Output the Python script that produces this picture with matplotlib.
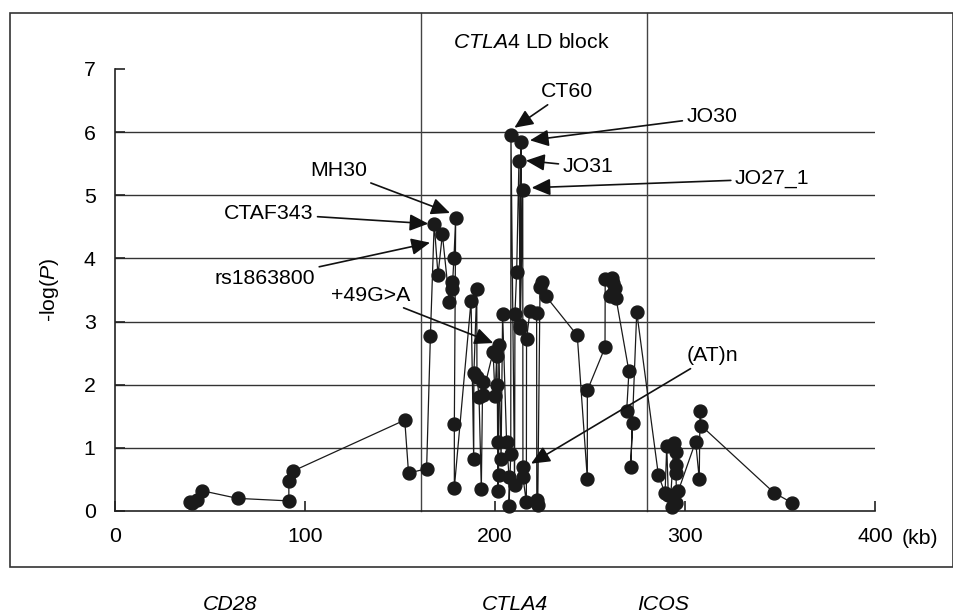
import matplotlib
matplotlib.use("Agg")
import matplotlib.pyplot as plt
from matplotlib.patches import Rectangle

plt.rcParams['font.family'] = ['Liberation Sans', 'DejaVu Sans']
plt.rcParams['mathtext.fontset'] = 'custom'
plt.rcParams['mathtext.rm'] = 'Liberation Sans'
plt.rcParams['mathtext.it'] = 'Liberation Sans:italic'

# marker positions (kb) and -log(P), in the order the line joins them
pos_kb = [39.5, 40.5, 43, 46, 64.5, 91.5, 91.5, 93.5, 152.5, 154.5,
          164, 166, 168, 170, 172.3, 176, 177.5, 177.5, 178.4, 179.3,
          178.6, 178.6, 187.4, 188.8, 188.9, 190.4, 190.5, 191.6, 192.8, 193.5,
          193.5, 199, 200, 200.9, 201.2, 201.4, 201.4, 201.9, 202, 203.2,
          204, 206.1, 207.4, 207.4, 208.3, 208.4, 210.3, 210.5, 211.4, 212.6,
          213.3, 213.7, 213.3, 214.6, 214.7, 214.7, 216.5, 216.6, 218.4, 221.9,
          222, 222.5, 223.7, 224.9, 226.8, 243.3, 248.6, 248.6, 257.9, 258,
          261.4, 262.3, 263.2, 262.3, 260.5, 263.7, 270.5, 269.3, 272.4, 271.4,
          274.6, 286, 289.5, 290.4, 291.2, 293, 292.5, 294.2, 295.3, 295.3,
          295.3, 295.5, 296.5, 305.6, 307.5, 307.9, 308.6, 346.8, 356.3]
neg_log_p = [0.15, 0.13, 0.17, 0.32, 0.20, 0.16, 0.47, 0.63, 1.44, 0.60,
             0.67, 2.77, 4.55, 3.74, 4.38, 3.31, 3.62, 3.52, 4.01, 4.64,
             1.37, 0.37, 3.33, 0.82, 2.18, 3.52, 2.13, 1.81, 0.35, 2.05,
             1.84, 2.52, 1.82, 2.45, 2.00, 1.10, 0.32, 0.57, 2.63, 0.82,
             3.12, 1.10, 0.54, 0.08, 0.91, 5.95, 0.41, 3.12, 3.79, 5.54,
             2.95, 5.85, 2.90, 5.08, 0.70, 0.54, 0.14, 2.72, 3.17, 3.14,
             0.17, 0.10, 3.55, 3.62, 3.40, 2.78, 0.51, 1.91, 2.59, 3.67,
             3.69, 3.61, 3.53, 3.45, 3.40, 3.37, 2.21, 1.59, 1.40, 0.69,
             3.15, 0.57, 0.28, 1.03, 0.25, 0.06, 0.23, 1.07, 0.94, 0.73,
             0.60, 0.13, 0.32, 1.10, 0.51, 1.59, 1.35, 0.29, 0.13]

x_ticks = [0, 100, 200, 300, 400]
x_tick_labels = ['0', '100', '200', '300', '400']
y_ticks = [0, 1, 2, 3, 4, 5, 6, 7]
grid_levels = [1, 2, 3, 4, 5, 6]
ld_block_kb = [161, 280]

genes = ['CD28', 'CTLA4', 'ICOS']
gene_kb = [60.5, 210.5, 288.4]

# label, text position, arrow tip, alignment
markers = [
    ('CT60', (237.7, 6.64), (210.2, 6.07), 'center'),
    ('JO30', (300.8, 6.24), (218.4, 5.87), 'left'),
    ('JO31', (235.6, 5.45), (216.3, 5.55), 'left'),
    ('JO27_1', (326.3, 5.26), (219.3, 5.12), 'left'),
    ('MH30', (132.5, 5.39), (176.3, 4.72), 'right'),
    ('CTAF343', (104.4, 4.71), (164.9, 4.55), 'right'),
    ('rs1863800', (105.3, 3.68), (165.8, 4.25), 'right'),
    ('+49G>A', (155.6, 3.42), (199.1, 2.66), 'right'),
    ('(AT)n', (300.8, 2.46), (219.0, 0.75), 'left'),
]

FS = 15.3
W, H = 954, 614
fig = plt.figure(figsize=(W / 100, H / 100), dpi=100)

# outer frame
fig.add_artist(Rectangle((10 / W, 1 - 567 / H), 943 / W, 554 / H,
                         transform=fig.transFigure, fill=False,
                         ec='#333333', lw=1.2))

ax = fig.add_axes([115 / W, 1 - 511 / H, 760 / W, 442 / H])
ax.set_xlim(0, 400)
ax.set_ylim(0, 7)
for s in ['top', 'right']:
    ax.spines[s].set_visible(False)
for s in ['left', 'bottom']:
    ax.spines[s].set_color('#222222')
    ax.spines[s].set_linewidth(1.2)

for v in grid_levels:
    ax.axhline(v, color='#333333', lw=1.0, zorder=1)
for x in ld_block_kb:
    ax.plot([x, x], [0, 7.89], color='#444444', lw=1.0, clip_on=False, zorder=1)

ax.plot(pos_kb, neg_log_p, '-o', color='#1a1a1a', lw=0.9, ms=9.3,
        clip_on=False, zorder=3)

ax.set_xticks(x_ticks)
ax.set_xticklabels(x_tick_labels)
ax.set_yticks(y_ticks)
ax.tick_params(axis='both', direction='in', length=7, width=1.2,
               color='#222222', labelsize=FS)
ax.tick_params(axis='x', pad=11.5)
ax.tick_params(axis='y', pad=14)
ax.annotate('(kb)', xy=(1, 0), xycoords='axes fraction', xytext=(19.5, -19.5),
            textcoords='offset points', ha='left', va='center', fontsize=FS)

ax.set_ylabel('-log($\\mathit{P}$)', fontsize=FS)
ax.yaxis.set_label_coords(-0.071, 0.5)

arrow = dict(arrowstyle='-|>,head_length=0.6,head_width=0.27', color='#111111',
             lw=1.2, mutation_scale=19, shrinkA=1, shrinkB=0)
for label, txt, tip, ha in markers:
    ax.annotate(label, xy=tip, xytext=txt, ha=ha, va='center', fontsize=FS,
                arrowprops=arrow, zorder=4)

fig.text(531 / W, 1 - 42 / H, '$\\mathit{CTLA4}$ LD block', ha='center',
         va='center', fontsize=FS)

for g, kb in zip(genes, gene_kb):
    ax.text(kb, -93 / 63.1, g, ha='center', va='center', fontsize=FS,
            style='italic', clip_on=False)

fig.savefig('out.png', dpi=100)
